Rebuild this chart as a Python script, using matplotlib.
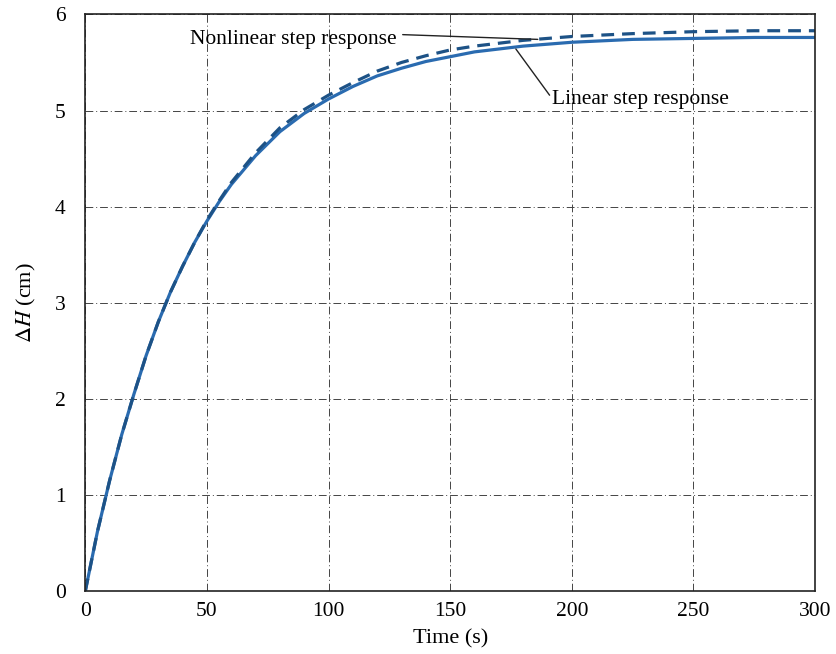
import numpy as np
import matplotlib.pyplot as plt

plt.rcParams['font.family'] = ['Liberation Serif', 'DejaVu Serif']
plt.rcParams['mathtext.fontset'] = 'stix'

# step responses
time_s = [0, 5, 10, 15, 20, 25, 30, 35, 40, 45, 50, 55, 60, 70, 80, 90, 100, 110, 120, 130, 140,
          150, 160, 170, 180, 190, 200, 225, 250, 275, 300]
linear_dh = [0, 0.62, 1.15, 1.63, 2.05, 2.45, 2.80, 3.11, 3.38, 3.63, 3.85, 4.05, 4.23, 4.53, 4.78,
             4.97, 5.12, 5.25, 5.36, 5.44, 5.51, 5.56, 5.61, 5.64, 5.67, 5.69, 5.71, 5.74, 5.75,
             5.76, 5.76]
nonlinear_dh = [0, 0.62, 1.15, 1.63, 2.05, 2.45, 2.80, 3.11, 3.38, 3.63, 3.86, 4.06, 4.25, 4.56,
                4.82, 5.01, 5.16, 5.29, 5.41, 5.50, 5.57, 5.63, 5.67, 5.70, 5.73, 5.75, 5.77,
                5.80, 5.82, 5.83, 5.83]

xticks = [0, 50, 100, 150, 200, 250, 300]
yticks = [0, 1, 2, 3, 4, 5, 6]

fig = plt.figure(figsize=(8.36, 6.54), dpi=100)
ax = fig.add_axes([0.102, 0.096, 0.873, 0.882])

ax.plot(time_s, linear_dh, color='#2a6bb0', lw=2.3, solid_capstyle='round')
ax.plot(time_s, nonlinear_dh, color='#1d5286', lw=2.3, ls=(0, (4, 2.5)))

ax.set_xlim(0, 300)
ax.set_ylim(0, 6)
ax.set_xticks(xticks)
ax.set_yticks(yticks)
ax.tick_params(labelsize=15.5, length=0)
ax.tick_params(axis='x', pad=8)
ax.tick_params(axis='y', pad=14)
ax.grid(True, color='#444444', lw=0.7, ls=(0, (8, 3, 1, 3)))
for s in ax.spines.values():
    s.set_color('#222222')
    s.set_linewidth(1.2)

ax.set_xlabel('Time (s)', fontsize=16, labelpad=6)
ax.set_ylabel(r'$\Delta H$ (cm)', fontsize=16, labelpad=12)

ax.annotate('Nonlinear step response', xy=(186, 5.74), xytext=(43, 5.74),
            fontsize=15.5, va='center', ha='left',
            arrowprops=dict(arrowstyle='-', color='#222222', lw=1.0,
                            shrinkA=0, shrinkB=0, relpos=(1.03, 0.75)))
ax.annotate('Linear step response', xy=(177, 5.64), xytext=(192, 5.11),
            fontsize=15.5, va='center', ha='left',
            arrowprops=dict(arrowstyle='-', color='#222222', lw=1.0,
                            shrinkA=0, shrinkB=0, relpos=(0, 0.55)))

fig.savefig('out.png', dpi=100)
